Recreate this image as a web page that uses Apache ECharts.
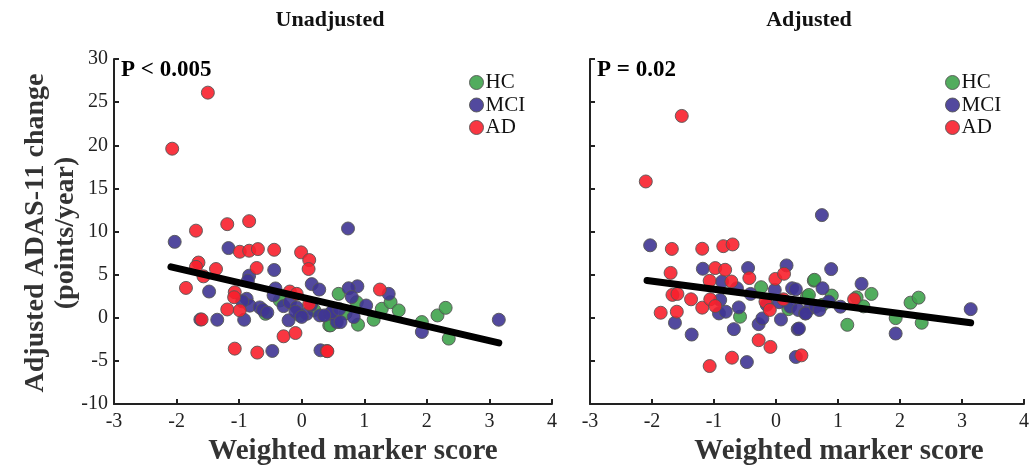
<!DOCTYPE html>
<html><head><meta charset="utf-8">
<script src="https://cdn.jsdelivr.net/npm/echarts@6/dist/echarts.min.js"></script>
<style>html,body{margin:0;padding:0;background:#fff}#c{width:1030px;height:467px}</style>
</head><body><div id="c"></div>
<script>
// ---- data (x = weighted marker score, y = ADAS-11 change) ----
const groups = ['HC', 'MCI', 'AD'];
const panelTitles = ['Unadjusted', 'Adjusted'];
const pTexts = ['P < 0.005', 'P = 0.02'];
const xAxisTitle = 'Weighted marker score';
const yAxisTitle = ['Adjusted ADAS-11 change', '(points/year)'];
const xTicks = [-3, -2, -1, 0, 1, 2, 3, 4];
const yTicks = [-10, -5, 0, 5, 10, 15, 20, 25, 30];

const leftHC = [[-0.58,0.46],[-0.35,2.0],[-0.03,0.27],[0.44,-0.88],[0.59,2.77],[0.46,-0.88],[0.90,-0.8],
  [1.15,-0.23],[1.28,1.04],[1.42,1.8],[1.55,0.85],[1.92,-0.5],[2.17,0.27],[2.30,1.15],[2.35,-2.42],[0.88,1.8],
  [0.2,0.9],[0.7,0.5]];
const leftMCI = [[-2.03,8.8],[-1.17,8.08],[-0.44,5.54],[-0.84,4.88],[-1.48,3.04],[-0.86,4.3],[-1.62,-0.2],
  [-1.35,-0.23],[-0.92,-0.23],[0.16,3.9],[0.28,3.27],[-0.42,3.4],[-0.45,2.6],[-0.88,2.2],[-0.83,1.4],
  [-0.67,1.2],[-0.62,0.9],[-0.29,1.35],[-0.19,1.8],[-0.08,1.2],[0.08,0.46],[-0.21,-0.3],[0.29,0.27],
  [0.45,0.46],[0.56,-0.5],[-0.47,-3.85],[0.30,-3.77],[0.74,10.35],[0.89,3.65],[0.75,3.42],[0.80,2.4],
  [1.39,2.77],[1.03,1.42],[0.48,0.65],[0.62,-0.5],[0.83,0.08],[0.36,0.27],[3.15,-0.23],[1.92,-1.65],
  [-0.95,1.9],[-0.1,0.7],[0.15,1.5],[0.6,1.0],[-0.55,0.6],[0.0,0.1]];
const leftAD = [[-1.50,26.1],[-2.07,19.6],[-1.69,10.1],[-1.19,10.85],[-0.84,11.2],[-0.99,7.65],[-0.84,7.77],
  [-0.70,7.96],[-0.44,7.88],[-0.01,7.58],[0.12,6.69],[0.11,5.65],[-1.65,6.4],[-1.69,5.9],[-1.57,4.8],
  [-1.37,5.65],[-1.85,3.46],[-0.72,5.77],[-1.07,2.96],[-1.08,2.38],[-1.19,0.96],[-0.99,0.85],[-0.19,3.04],
  [-0.08,2.77],[0.12,1.6],[-1.60,-0.2],[-1.07,-3.58],[-0.71,-4.04],[-0.29,-2.15],[-0.10,-1.77],[0.40,-3.85],
  [1.25,3.27],[0.41,-3.88]];
const leftFit = [[-2.09,5.9],[3.15,-2.92]];

const rightHC = [[-0.58,0.12],[-0.24,3.54],[0.61,4.3],[0.50,2.45],[0.62,4.4],[0.53,2.64],[0.90,2.57],
  [1.15,-0.82],[1.30,2.37],[1.54,2.76],[1.41,1.32],[1.93,-0.04],[2.17,1.75],[2.30,2.33],[2.35,-0.58],
  [0.2,1.0],[0.75,1.5]];
const rightMCI = [[-2.03,8.4],[-1.18,5.68],[-0.45,5.76],[0.17,6.07],[-1.63,-0.58],[-1.36,-1.95],[-0.68,-1.32],
  [-0.92,0.5],[-0.81,0.7],[-0.90,2.06],[-0.87,4.2],[-0.63,3.42],[-0.41,2.76],[-0.02,3.23],[0.26,3.42],
  [0.08,-0.2],[-0.28,-0.74],[-0.22,-0.08],[0.35,-1.32],[-0.47,-5.14],[0.32,-4.55],[0.23,1.28],[0.36,0.9],
  [0.47,0.5],[0.55,1.1],[0.74,11.9],[0.89,5.64],[1.38,3.93],[0.75,3.42],[0.32,3.3],[0.37,-1.25],[0.85,1.87],
  [1.04,1.28],[0.48,0.5],[0.64,1.28],[3.14,1.0],[1.93,-1.83],[-0.15,1.5],[0.05,1.8],[-0.6,1.2],[0.7,0.9]];
const rightAD = [[-1.52,23.4],[-2.10,15.8],[-1.68,7.98],[-1.19,8.0],[-0.85,8.3],[-0.70,8.5],[-1.70,5.2],
  [-0.98,5.76],[-0.82,5.56],[-1.07,4.28],[-0.72,4.2],[-0.43,4.6],[-0.01,4.5],[0.13,5.1],[-1.67,2.65],
  [-1.59,2.76],[-1.37,2.14],[-1.19,1.17],[-1.06,2.14],[-0.98,1.36],[-1.86,0.58],[-1.60,0.7],[-0.17,1.87],
  [-0.10,0.9],[0.12,2.14],[-0.28,-2.6],[-0.09,-3.38],[-0.71,-4.63],[-1.07,-5.6],[0.41,-4.36],[1.26,2.14]];
const rightFit = [[-2.08,4.32],[3.14,-0.58]];

const colors = {HC: '#3fa34d', MCI: '#3f3594', AD: '#f8202c'};
const panelData = [
  {HC: leftHC, MCI: leftMCI, AD: leftAD, fit: leftFit},
  {HC: rightHC, MCI: rightMCI, AD: rightAD, fit: rightFit}
];

const serif = '"Liberation Serif","Times New Roman",serif';
const chart = echarts.init(document.getElementById('c'), null, {renderer: 'canvas'});
const grids = [
  {left: 114, top: 59, width: 438, height: 345, containLabel: false, outerBoundsMode: 'none'},
  {left: 590, top: 59, width: 434, height: 345, containLabel: false, outerBoundsMode: 'none'}
];
const xAxes = [], yAxes = [], series = [], legends = [], graphics = [];
grids.forEach((g, i) => {
  xAxes.push({
    gridIndex: i, type: 'value', min: xTicks[0], max: xTicks[xTicks.length - 1], interval: 1,
    axisLine: {show: true, onZero: false, lineStyle: {color: '#222', width: 2}},
    axisTick: {show: true, inside: true, length: 5, lineStyle: {color: '#222', width: 2}},
    axisLabel: {fontFamily: serif, fontSize: 20, color: '#222', margin: 8},
    splitLine: {show: false}
  });
  yAxes.push({
    gridIndex: i, type: 'value', min: yTicks[0], max: yTicks[yTicks.length - 1], interval: 5,
    axisLine: {show: true, onZero: false, lineStyle: {color: '#222', width: 2}},
    axisTick: {show: true, inside: true, length: 5, lineStyle: {color: '#222', width: 2}},
    axisLabel: {show: i === 0, fontFamily: serif, fontSize: 20, color: '#222', margin: 6},
    splitLine: {show: false}
  });
  groups.forEach(name => {
    series.push({
      type: 'scatter', name: name, xAxisIndex: i, yAxisIndex: i,
      data: panelData[i][name], symbol: 'circle', symbolSize: 13,
      itemStyle: {color: colors[name], opacity: 0.9, borderColor: '#555', borderWidth: 1},
      emphasis: {disabled: true}, z: 2
    });
  });
  series.push({
    type: 'line', xAxisIndex: i, yAxisIndex: i, data: panelData[i].fit,
    symbol: 'none', lineStyle: {color: '#000', width: 7, cap: 'round'}, z: 5, silent: true
  });
  legends.push({
    data: groups, orient: 'vertical', left: g.left + 350, top: 67, itemGap: 1.5,
    icon: 'circle', itemWidth: 14, itemHeight: 14,
    itemStyle: {borderColor: '#555', borderWidth: 1},
    textStyle: {fontFamily: serif, fontSize: 21, color: '#111', padding: [0, 0, 0, -3]}
  });
  graphics.push({
    type: 'text', x: [330, 809][i], y: 20,
    style: {text: panelTitles[i], font: 'bold 22px ' + serif, fill: '#111', textAlign: 'center', textVerticalAlign: 'middle'}
  });
  graphics.push({
    type: 'text', left: g.left + 7, top: 59,
    style: {text: pTexts[i], font: 'bold 23px ' + serif, fill: '#000'}
  });
  graphics.push({
    type: 'text', x: [353, 839][i], y: 452,
    style: {text: xAxisTitle, font: 'bold 29px ' + serif, fill: '#333', textAlign: 'center', textVerticalAlign: 'middle'}
  });
});
graphics.push({
  type: 'text', x: 36, y: 233, rotation: Math.PI / 2,
  style: {text: yAxisTitle[0], font: 'bold 28px ' + serif, fill: '#333', textAlign: 'center', textVerticalAlign: 'middle'}
});
graphics.push({
  type: 'text', x: 66, y: 233, rotation: Math.PI / 2,
  style: {text: yAxisTitle[1], font: 'bold 28px ' + serif, fill: '#333', textAlign: 'center', textVerticalAlign: 'middle'}
});

chart.setOption({
  animation: false,
  grid: grids, xAxis: xAxes, yAxis: yAxes, series: series, legend: legends, graphic: graphics
});
</script></body></html>
